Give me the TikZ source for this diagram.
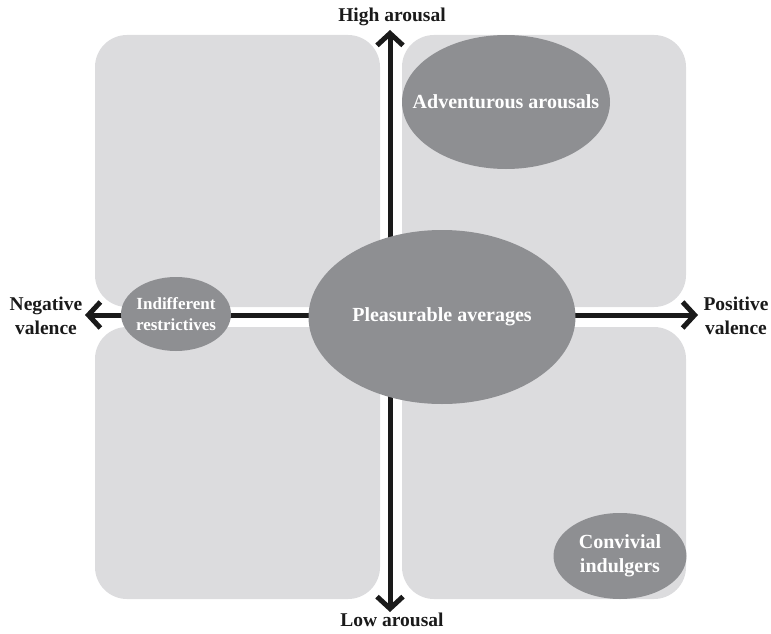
\documentclass[tikz,border=0pt]{standalone}
\usepackage{fontspec}
\setmainfont{Liberation Serif}
\usetikzlibrary{arrows.meta,shapes.geometric}
\definecolor{boxgray}{HTML}{DCDCDE}
\definecolor{ellgray}{HTML}{8E8F92}
\definecolor{axisblack}{HTML}{1A1A1A}
\begin{document}
\begin{tikzpicture}[x=1pt,y=-1pt,
  quad/.style={fill=boxgray, draw=none, rounded corners=32pt},
  blob/.style={ellipse, fill=ellgray, draw=none, inner sep=0pt},
  blobtext/.style={text=white, align=center, inner sep=0pt,
    font=\bfseries\fontsize{20}{24}\selectfont},
  axislabel/.style={font=\bfseries\fontsize{19.5}{24}\selectfont, align=center, text=axisblack, inner sep=0pt},
  axisline/.style={draw=axisblack, line width=5pt, -{Straight Barb[length=12pt,width=26pt]}}]
\useasboundingbox (0,0) rectangle (771,634);
% quadrant panels
\fill[quad] (95,35) rectangle (380,307);
\fill[quad] (402,35) rectangle (686,307);
\fill[quad] (95,327) rectangle (380,599);
\fill[quad] (402,327) rectangle (686,599);
% axis labels
\node[axislabel] (hi) at (392,17) {High arousal};
\node[axislabel] (lo) at (392,620) {Low arousal};
\node[axislabel] (neg) at (46,316) {Negative\\valence};
\node[axislabel] (pos) at (736,316) {Positive\\valence};
% axes
\coordinate (ctr) at (390,315);
\coordinate (topend) at (390,30);
\coordinate (botend) at (390,612);
\coordinate (leftend) at (85,315);
\coordinate (rightend) at (698,315);
\draw[axisline] (ctr) -- (topend);
\draw[axisline] (ctr) -- (botend);
\draw[axisline] (ctr) -- (leftend);
\draw[axisline] (ctr) -- (rightend);
% clusters
\node[blob, minimum width=208pt, minimum height=134pt,
  label={[blobtext]center:Adventurous arousals}] (adv) at (506,102) {};
\node[blob, minimum width=267pt, minimum height=174pt,
  label={[blobtext]center:Pleasurable averages}] (pls) at (442,317) {};
\node[blob, minimum width=110pt, minimum height=74pt,
  label={[blobtext, font=\bfseries\fontsize{17}{21}\selectfont]center:{Indifferent\\restrictives}}] (ind) at (176,314) {};
\node[blob, minimum width=133pt, minimum height=86pt,
  label={[blobtext]center:{Convivial\\indulgers}}] (conv) at (620,556) {};
\end{tikzpicture}
\end{document}
